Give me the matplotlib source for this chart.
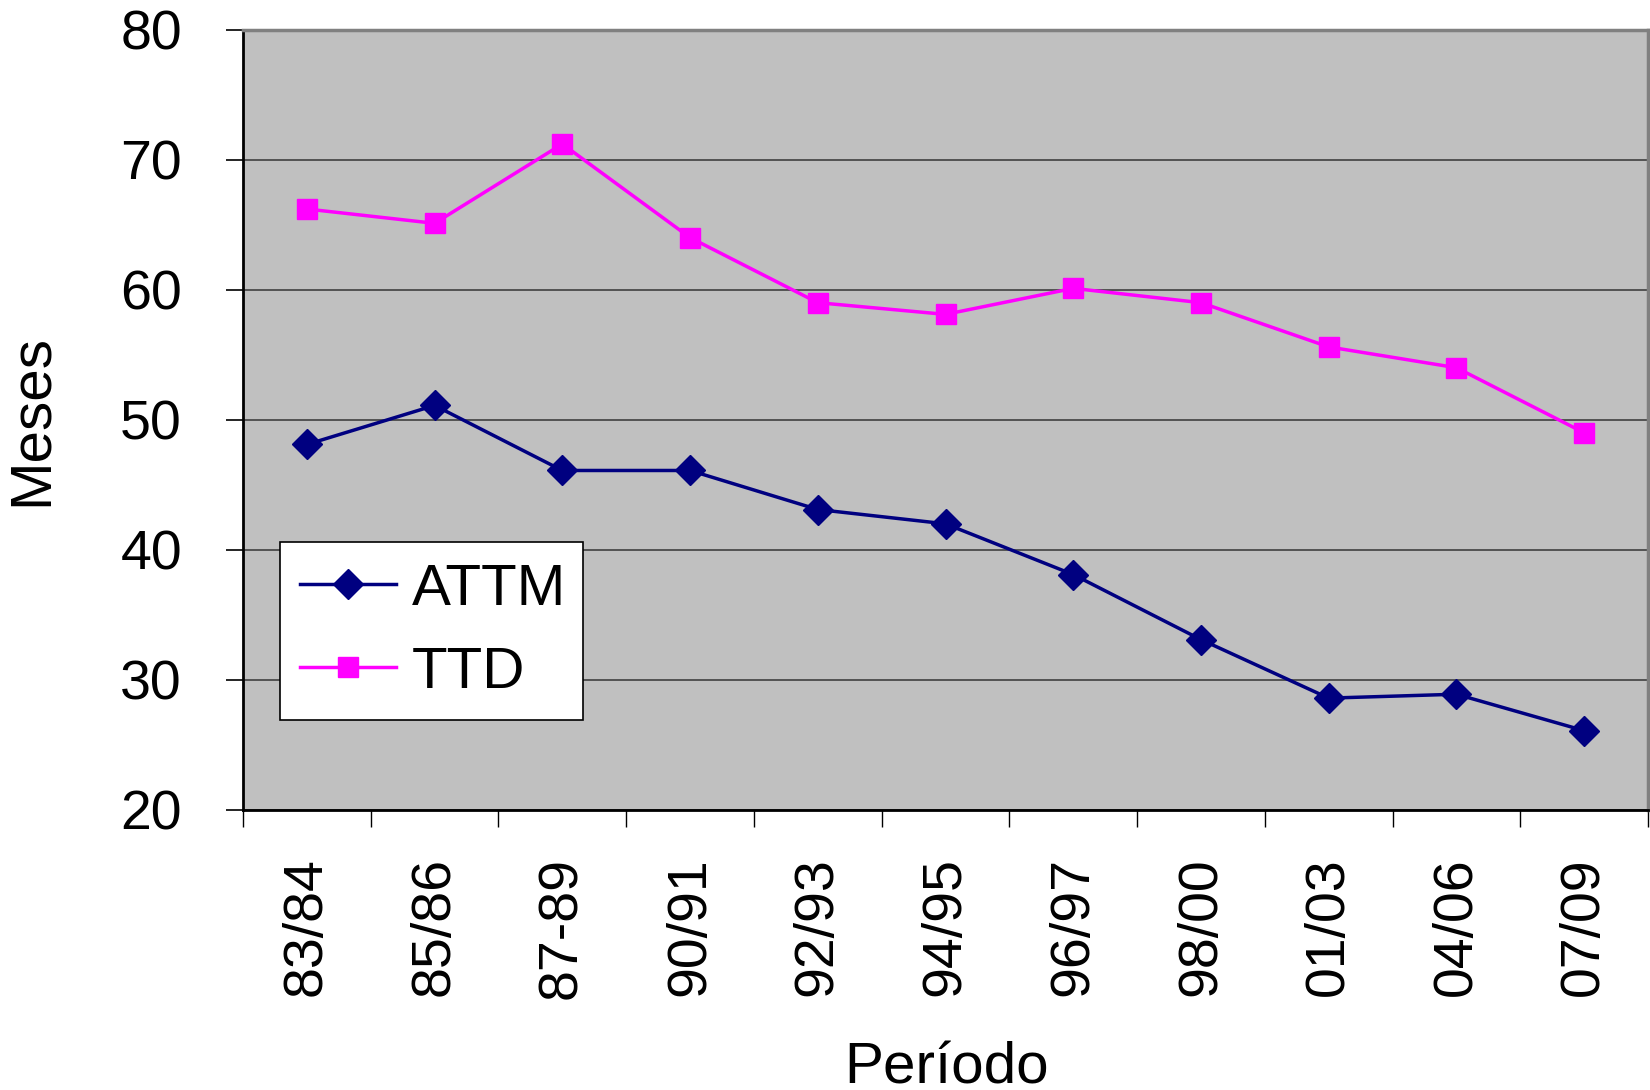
import matplotlib.pyplot as plt
import numpy as np

plt.rcParams['font.family'] = ['Liberation Sans', 'DejaVu Sans']

# data
periodos = ["83/84", "85/86", "87-89", "90/91", "92/93", "94/95",
            "96/97", "98/00", "01/03", "04/06", "07/09"]
attm = [48.1, 51.1, 46.1, 46.1, 43.1, 42.0, 38.1, 33.1, 28.6, 28.9, 26.1]
ttd = [66.2, 65.1, 71.2, 64.0, 59.0, 58.1, 60.1, 59.0, 55.6, 54.0, 49.0]
y_ticks = [20, 30, 40, 50, 60, 70, 80]

fig = plt.figure(figsize=(16.5, 10.9), dpi=100)
ax = fig.add_axes([243 / 1650, 1 - 810 / 1090, 1405 / 1650, (810 - 29.5) / 1090])
ax.set_facecolor("#C0C0C0")

x = np.arange(len(periodos))
ax.plot(x, attm, color="#000080", lw=2.5, marker="D", ms=15,
        markeredgecolor="#000080", label="ATTM", zorder=3)
ax.plot(x, ttd, color="#FF00FF", lw=2.5, marker="s", ms=15,
        markeredgecolor="#FF00FF", label="TTD", zorder=3)

ax.set_xlim(-0.5, len(periodos) - 0.5)
ax.set_ylim(20, 80)
ax.set_yticks(y_ticks)
ax.set_yticklabels([str(v) for v in y_ticks], fontsize=40)
ax.yaxis.grid(True, color="#404040", lw=1.2)
ax.set_axisbelow(True)

# categories sit between tick marks
ax.set_xticks(x)
ax.set_xticklabels(periodos, rotation=90, fontsize=40)
ax.tick_params(axis="x", length=0, pad=34)
ax.set_xticks(np.arange(len(periodos) + 1) - 0.5, minor=True)
ax.tick_params(axis="x", which="minor", length=12, width=1, color="black", direction="out")
ax.tick_params(axis="y", length=12, width=1.2, direction="out", pad=32)

for side in ["top", "right"]:
    ax.spines[side].set_color("#808080")
    ax.spines[side].set_linewidth(2.5)
ax.spines["left"].set_linewidth(2)
ax.spines["bottom"].set_linewidth(2)

ax.set_ylabel("Meses", fontsize=42)
ax.yaxis.set_label_coords(-0.131, 0.5)
ax.set_xlabel("Período", fontsize=42)
ax.xaxis.set_label_coords(0.501, -0.297)

leg = ax.legend(loc="lower left", bbox_to_anchor=(0.026, 0.115, 0.216, 0.222),
                mode="expand", fontsize=42, frameon=True, fancybox=False,
                borderpad=0.35, labelspacing=0.5, handlelength=1.65,
                handletextpad=0.27, borderaxespad=0)
leg.get_frame().set_edgecolor("black")
leg.get_frame().set_linewidth(1.2)
leg.get_frame().set_alpha(1)

fig.savefig("out.png", dpi=100)
